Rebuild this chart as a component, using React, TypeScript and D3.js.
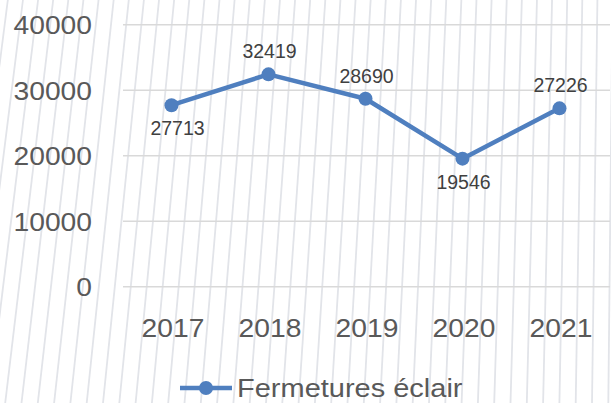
import React from "react";
import * as d3 from "d3";

const years = ["2017", "2018", "2019", "2020", "2021"];
const values = [27713, 32419, 28690, 19546, 27226];
const labelBelow = [true, false, false, true, false];
const yTicks = [0, 10000, 20000, 30000, 40000];
const seriesName = "Fermetures éclair";

const W = 611;
const H = 403;
const BLUE = "#4f7fbf";
const TXT = "#595959";
const FONT = "'Liberation Sans', Arial, sans-serif";

export default function App() {
  const x = d3.scalePoint<string>().domain(years).range([123, 608]).padding(0.5);
  const y = d3.scaleLinear().domain([0, 40000]).range([286.7, 24.7]);
  const line = d3
    .line<number>()
    .x((_, i) => x(years[i]) as number)
    .y((d) => y(d));

  const hatch = d3.range(-60, 680, 16.3).map((x0) => {
    const s = 0.12 - 0.11 * (x0 / W);
    return { x1: x0, y1: H, x2: x0 + s * H, y2: 0 };
  });

  return (
    <svg
      width={W}
      height={H}
      style={{ position: "absolute", left: 0, top: 0, display: "block" }}
    >
      <rect x={0} y={0} width={W} height={H} fill="#ffffff" />
      {hatch.map((h, i) => (
        <line key={i} {...h} stroke="#e2e4e9" strokeWidth={1.8} />
      ))}
      {yTicks.map((t) => (
        <line
          key={t}
          x1={123}
          x2={610}
          y1={y(t)}
          y2={y(t)}
          stroke="#d9d9d9"
          strokeWidth={1.6}
        />
      ))}
      {yTicks.map((t) => (
        <text
          key={"l" + t}
          transform={`translate(92,${y(t) + 9.5}) scale(1.13,1)`}
          textAnchor="end"
          fontFamily={FONT}
          fontSize={25}
          fill={TXT}
        >
          {t}
        </text>
      ))}
      {years.map((yr) => (
        <text
          key={yr}
          transform={`translate(${(x(yr) as number) + 1.5},337.3) scale(1.13,1)`}
          textAnchor="middle"
          fontFamily={FONT}
          fontSize={25}
          fill={TXT}
        >
          {yr}
        </text>
      ))}
      <path
        d={line(values) as string}
        fill="none"
        stroke={BLUE}
        strokeWidth={4.5}
        strokeLinejoin="round"
      />
      {values.map((v, i) => (
        <circle key={i} cx={x(years[i]) as number} cy={y(v)} r={7} fill={BLUE} />
      ))}
      {values.map((v, i) => (
        <text
          key={"d" + i}
          x={(x(years[i]) as number) + (i === 0 ? 6 : 1)}
          y={labelBelow[i] ? y(v) + 30 : y(v) - 16}
          textAnchor="middle"
          fontFamily={FONT}
          fontSize={19.5}
          fill="#404040"
        >
          {v}
        </text>
      ))}
      <line x1={180} x2={232} y1={388} y2={388} stroke={BLUE} strokeWidth={4.5} />
      <circle cx={206} cy={388} r={7} fill={BLUE} />
      <text
        transform="translate(237,397) scale(1.16,1)"
        fontFamily={FONT}
        fontSize={25}
        fill={TXT}
      >
        {seriesName}
      </text>
    </svg>
  );
}
